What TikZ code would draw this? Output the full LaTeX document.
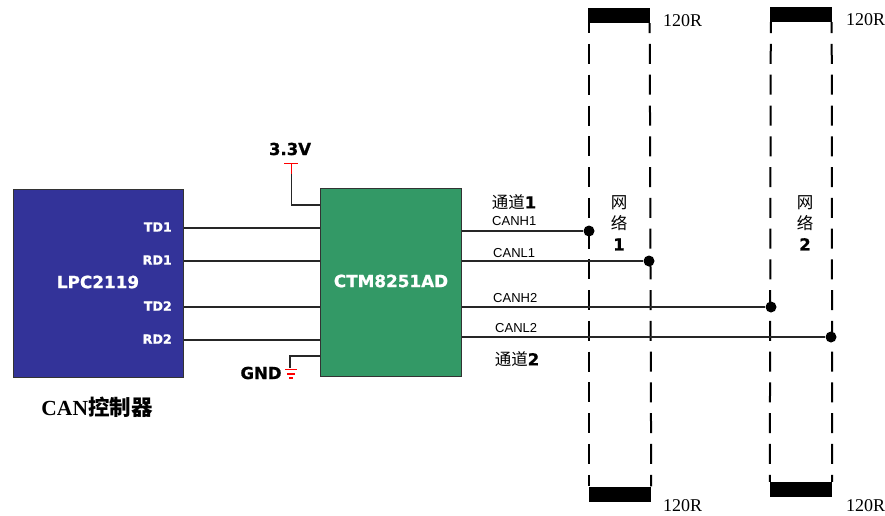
\documentclass[tikz,border=0pt]{standalone}
\usepackage{fontspec}
\setmainfont{Liberation Sans}
\newfontfamily\serifrm{Liberation Serif}
\newfontfamily\heavy[BoldFont=DejaVu Sans Bold, BoldFeatures={FakeBold=1}]{DejaVu Sans}
\newfontfamily\cjk{Noto Sans CJK SC}
\definecolor{lpcblue}{RGB}{51,51,153}
\definecolor{ctmgreen}{RGB}{51,153,102}
\newcommand{\heavynum}[1]{{\heavy\bfseries #1}}
\tikzset{
  chipbox/.style={draw=black!80, line width=0.9pt, anchor=north west, inner sep=0pt},
  chipname/.style={text=white, font=\fontsize{16.8}{18}\selectfont\heavy\bfseries},
  pinlabel/.style={text=white, font=\fontsize{12.7}{15}\selectfont\heavy\bfseries, anchor=east, inner sep=0pt},
  powerlabel/.style={font=\fontsize{16.5}{18}\selectfont\heavy\bfseries, inner sep=0pt},
  canlabel/.style={font=\fontsize{13}{15}\selectfont, anchor=west, inner sep=0pt},
  reslabel/.style={font=\fontsize{18}{20}\selectfont\serifrm, inner sep=0pt},
  chanlabel/.style={font=\fontsize{16.5}{18}\selectfont, inner sep=0pt},
  netlabel/.style={font=\fontsize{16.5}{21}\selectfont, align=center, inner sep=0pt},
  termbar/.style={fill=black, minimum width=62pt, minimum height=15pt, inner sep=0pt},
  busdot/.style={circle, fill=black, minimum size=11pt, inner sep=0pt},
  sigline/.style={line width=1.1pt, black!85},
  redline/.style={red, line width=1.3pt},
  busline/.style={line width=2pt, dash pattern=on 20pt off 10.77pt}
}
\begin{document}
\begin{tikzpicture}[x=1pt,y=-1pt]
\useasboundingbox (0,0) rectangle (885,515);

% chips
\node[chipbox, fill=lpcblue, minimum width=170pt, minimum height=188pt] (lpc) at (13,189) {};
\node[chipbox, fill=ctmgreen, minimum width=141pt, minimum height=188pt] (ctm) at (320,188) {};
\node[chipname] (lpcname) at (98,282) {LPC2119};
\node[chipname] (ctmname) at (391,281) {CTM8251AD};
\node[font=\fontsize{21.5}{24}\selectfont\bfseries\serifrm] (ctrlname) at (97,407) {CAN{\cjk 控制器}};

% pins
\node[pinlabel] (td1) at (172,227) {TD1};
\node[pinlabel] (rd1) at (172,260) {RD1};
\node[pinlabel] (td2) at (172,306) {TD2};
\node[pinlabel] (rd2) at (172,339) {RD2};
\draw[sigline] (lpc.east |- 0,228) coordinate (a1) -- (ctm.west |- a1);
\draw[sigline] (lpc.east |- 0,261) coordinate (a2) -- (ctm.west |- a2);
\draw[sigline] (lpc.east |- 0,307) coordinate (a3) -- (ctm.west |- a3);
\draw[sigline] (lpc.east |- 0,340) coordinate (a4) -- (ctm.west |- a4);

% supply
\node[powerlabel] (vcc) at (290,149) {3.3V};
\coordinate (vtop) at (291.5,163.5);
\coordinate (vmid) at (291.5,174);
\draw[sigline] (vmid) |- (ctm.west |- 0,205);
\draw[redline] (284,163.5) -- (298,163.5);
\draw[redline] (vtop) -- (vmid);

\node[powerlabel] (gnd) at (261,373) {GND};
\coordinate (gtop) at (290,368);
\draw[sigline] (ctm.west |- 0,356) -| (gtop);
\draw[redline] (285,369.5) -- (297,369.5);
\draw[redline] (287,374) -- (295,374);
\draw[redline] (289,378) -- (293,378);

% terminations
\node[termbar] (top1) at (619,15.5) {};
\node[termbar] (top2) at (801,14.5) {};
\node[termbar] (bot1) at (620,494) {};
\node[termbar] (bot2) at (801,489.5) {};
\node[reslabel] (r1) at (682.5,21) {120R};
\node[reslabel] (r2) at (865.5,20) {120R};
\node[reslabel] (r3) at (682.5,506) {120R};
\node[reslabel] (r4) at (865.5,506) {120R};

% bus lines
\draw[busline, dash phase=10pt] (top1.south west) ++(1,0) -- (bot1.north west);
\draw[busline, dash phase=10pt] (top1.south east) ++(-0.5,0) -- (bot1.north east);
\draw[busline, dash phase=9pt] (top2.south west) ++(1,0) -- (bot2.north west);
\draw[busline, dash phase=9pt] (top2.south east) ++(-0.5,0) -- (bot2.north east);

% channels
\node[busdot] (h1) at (589,231) {};
\node[busdot] (l1) at (649,261) {};
\node[busdot] (h2) at (771,307) {};
\node[busdot] (l2) at (831,337) {};
\draw[sigline] (ctm.east |- h1) -- (h1);
\draw[sigline] (ctm.east |- l1) -- (l1);
\draw[sigline] (ctm.east |- h2) -- (h2);
\draw[sigline] (ctm.east |- l2) -- (l2);
\node[canlabel] (canh1) at (492,221) {CANH1};
\node[canlabel] (canl1) at (493,253) {CANL1};
\node[canlabel] (canh2) at (493,298) {CANH2};
\node[canlabel] (canl2) at (495,328) {CANL2};
\node[chanlabel] (ch1) at (514,202) {{\cjk 通道}\heavynum{1}};
\node[chanlabel] (ch2) at (517,359) {{\cjk 通道}\heavynum{2}};

% networks
\node[netlabel] (net1) at (619,223) {{\cjk 网}\\{\cjk 络}\\\heavynum{1}};
\node[netlabel] (net2) at (805,223) {{\cjk 网}\\{\cjk 络}\\\heavynum{2}};
\end{tikzpicture}
\end{document}
